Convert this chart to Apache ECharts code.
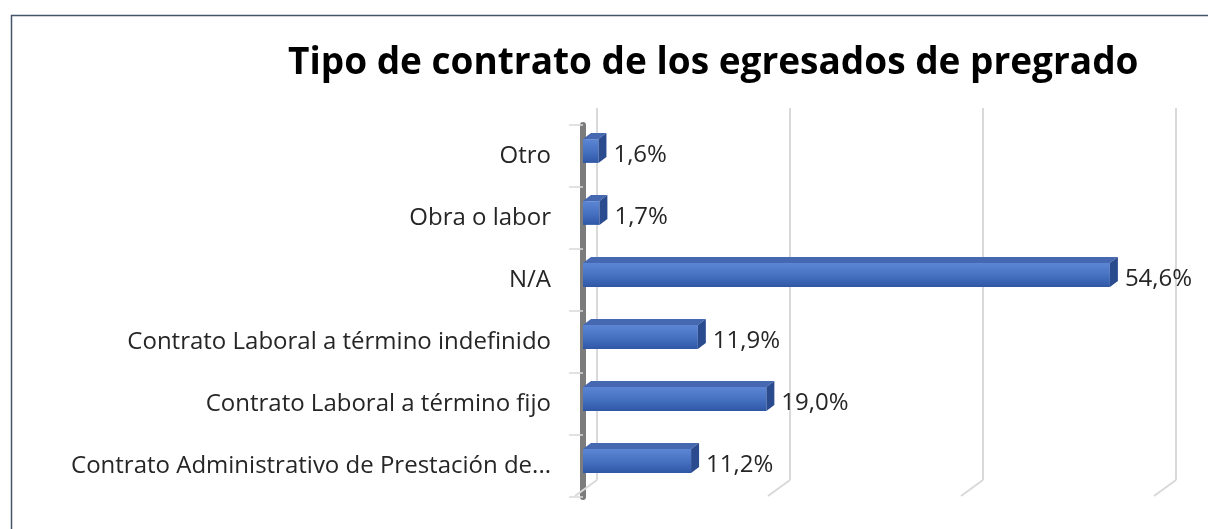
<!DOCTYPE html>
<html>
<head>
<meta charset="utf-8">
<title>Tipo de contrato</title>
<script src="https://cdn.jsdelivr.net/npm/echarts@6/dist/echarts.min.js"></script>
<style>
  html, body { margin: 0; padding: 0; background: #fff; }
  #main { width: 1208px; height: 529px; }
</style>
</head>
<body>
<div id="main"></div>
<script type="text/javascript">
// categories bottom -> top
var categories = [
  'Contrato Administrativo de Prestación de...',
  'Contrato Laboral a término fijo',
  'Contrato Laboral a término indefinido',
  'N/A',
  'Obra o labor',
  'Otro'
];
var values = [11.2, 19.0, 11.9, 54.6, 1.7, 1.6];
var gridTicks = [0, 20, 40, 60];

var chart = echarts.init(document.getElementById('main'));
var FONT = '"Open Sans", sans-serif';

function fmt(v) {
  return v.toFixed(1).replace('.', ',') + '%';
}

// bar drawn as a little box: front, top and right side
function renderBar(params, api) {
  var idx = api.value(0);
  var v = api.value(1);
  var p0 = api.coord([0, idx]);
  var p1 = api.coord([v, idx]);
  var band = api.size([0, 1])[1];
  var H = band * 0.48;
  var dx = 8, dy = 6;
  var x0 = p0[0], x1 = p1[0], cy = p0[1] - 8; // bars sit a bit up (perspective)
  var yTop = cy - H / 2 + dy, yBot = cy + H / 2;
  return {
    type: 'group',
    children: [
      {
        type: 'rect',
        shape: { x: x0, y: yTop, width: x1 - x0, height: yBot - yTop },
        style: {
          fill: new echarts.graphic.LinearGradient(0, 0, 0, 1, [
            { offset: 0, color: '#5c86d4' },
            { offset: 0.5, color: '#4772c2' },
            { offset: 1, color: '#2f57a6' }
          ])
        }
      },
      {
        type: 'polygon',
        shape: { points: [[x0, yTop], [x1, yTop], [x1 + dx, yTop - dy], [x0 + dx, yTop - dy]] },
        style: { fill: '#4668b0' }
      },
      {
        type: 'polygon',
        shape: { points: [[x1, yTop], [x1 + dx, yTop - dy], [x1 + dx, yBot - dy], [x1, yBot]] },
        style: { fill: '#2b4b8f' }
      },
      {
        type: 'text',
        style: {
          x: x1 + dx + 7, y: p0[1] - 1, text: fmt(v),
          fill: '#262626', font: '24px ' + FONT,
          textVerticalAlign: 'middle', verticalAlign: 'middle'
        }
      }
    ]
  };
}

// short floor lines under each back wall gridline
function renderFoot(params, api) {
  var p = api.coord([api.value(0), 0]);
  return {
    type: 'line',
    shape: { x1: p[0], y1: p[1], x2: p[0] - 22, y2: p[1] + 16 },
    style: { stroke: '#d9d9d9', lineWidth: 2 }
  };
}

var option = {
  backgroundColor: '#fff',
  animation: false,
  title: {
    text: 'Tipo de contrato de los egresados de pregrado',
    left: 283,
    top: 40,
    textStyle: { fontFamily: FONT, fontWeight: 'bold', fontSize: 37, color: '#000' }
  },
  graphic: [{
    type: 'rect',
    left: 9, top: 13,
    shape: { width: 1230, height: 560 },
    style: { fill: 'none', stroke: '#44546a', lineWidth: 1.5 },
    silent: true
  }],
  grid: [
    { left: 583, right: 46, top: 125, bottom: 32 },
    { left: 597, right: 32, top: 108, bottom: 49 }
  ],
  xAxis: [
    {
      gridIndex: 0, type: 'value', min: 0, max: 60, interval: 20,
      axisLine: { show: false }, axisTick: { show: false },
      axisLabel: { show: false }, splitLine: { show: false }
    },
    {
      gridIndex: 1, type: 'value', min: 0, max: 60, interval: 20,
      axisLine: { show: false }, axisTick: { show: false },
      axisLabel: { show: false },
      splitLine: { show: true, lineStyle: { color: '#d9d9d9', width: 2 } }
    }
  ],
  yAxis: [
    {
      gridIndex: 0, type: 'category', data: categories,
      axisLine: { show: true, lineStyle: { color: '#7c7c7c', width: 6 } },
      axisTick: { show: true, length: 14, lineStyle: { color: '#d9d9d9', width: 1.5 } },
      axisLabel: { margin: 32, fontFamily: FONT, fontSize: 24, color: '#262626' },
      splitLine: { show: false }
    },
    {
      gridIndex: 1, type: 'value', min: 0, max: 1, show: false
    }
  ],
  series: [
    {
      type: 'custom',
      xAxisIndex: 1, yAxisIndex: 1,
      renderItem: renderFoot,
      data: gridTicks.map(function (t) { return [t]; }),
      silent: true, z: 1
    },
    {
      type: 'custom',
      xAxisIndex: 0, yAxisIndex: 0,
      renderItem: renderBar,
      encode: { x: 1, y: 0 },
      data: values.map(function (v, i) { return [i, v]; }),
      z: 3
    }
  ]
};
chart.setOption(option);
</script>
</body>
</html>
